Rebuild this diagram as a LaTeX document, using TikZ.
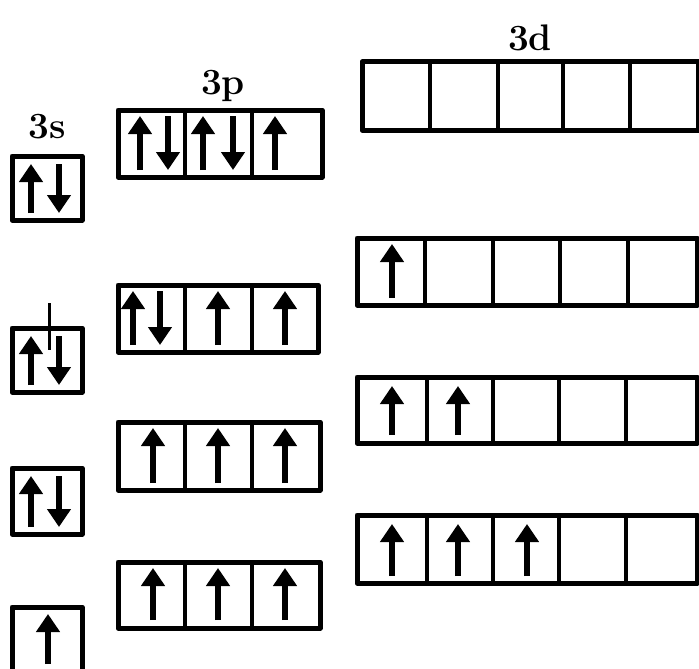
\documentclass[tikz,border=0pt]{standalone}
\usetikzlibrary{arrows.meta}
\begin{document}
\begin{tikzpicture}[x=1pt,y=-1pt,
  frame/.style={line width=5pt, line join=round},
  divider/.style={line width=4pt},
  spin/.style={line width=5.5pt, -{Triangle[width=23pt,length=18pt]}},
  tick/.style={line width=3pt},
  lbl/.style={font=\bfseries\fontsize{37}{37}\selectfont, inner sep=0pt}]
\useasboundingbox (0,0) rectangle (699,669);
\clip (0,0) rectangle (699,669);
\newcommand\orbrow[5]{\draw[frame] (#1,#2) rectangle (#3,#4);
  \foreach \d in {#5} \draw[divider] (\d,#2) -- (\d,#4);}
\newcommand\spinup[3]{\draw[spin] (#1,#3) -- (#1,#2);}
\newcommand\spindn[3]{\draw[spin] (#1,#2) -- (#1,#3);}
% labels
\node[lbl] (l3s) at (47,127) {3s};
\node[lbl] (l3p) at (223,86) {3p};
\node[lbl] (l3d) at (530,38) {3d};
% 3s column
\draw[frame] (12,156) rectangle (82,220);
\spinup{31}{164}{213}\spindn{59}{164}{213}
\draw[frame] (12,328) rectangle (82,392);
\draw[tick] (49,303) -- (49,350);
\spinup{31}{336}{385}\spindn{59}{336}{385}
\draw[frame] (12,468) rectangle (82,534);
\spinup{31}{476}{527}\spindn{59}{476}{527}
\draw[frame] (12,607) rectangle (82,680);
\spinup{48}{614}{664}
% 3p column
\orbrow{118}{110}{322}{177}{185,252}
\spinup{140}{116}{170}\spindn{168}{116}{170}
\spinup{203}{116}{170}\spindn{233}{116}{170}
\spinup{275}{116}{170}
\orbrow{118}{285}{318}{352}{185,252}
\spinup{133}{291}{345}\spindn{160}{291}{345}
\spinup{218}{291}{345}
\spinup{285}{291}{345}
\orbrow{118}{422}{320}{490}{185,252}
\spinup{153}{428}{483}\spinup{218}{428}{483}\spinup{285}{428}{483}
\orbrow{118}{562}{320}{628}{185,252}
\spinup{153}{568}{620}\spinup{218}{568}{620}\spinup{285}{568}{620}
% 3d column
\orbrow{362}{62}{698}{130}{430,498,563,630}
\orbrow{357}{238}{697}{305}{425,493,560,628}
\spinup{392}{244}{298}
\orbrow{357}{377}{697}{443}{427,493,559,626}
\spinup{392}{386}{435}\spinup{458}{386}{435}
\orbrow{357}{515}{697}{583}{427,493,559,626}
\spinup{392}{524}{576}\spinup{458}{524}{576}\spinup{527}{524}{576}
\end{tikzpicture}
\end{document}
